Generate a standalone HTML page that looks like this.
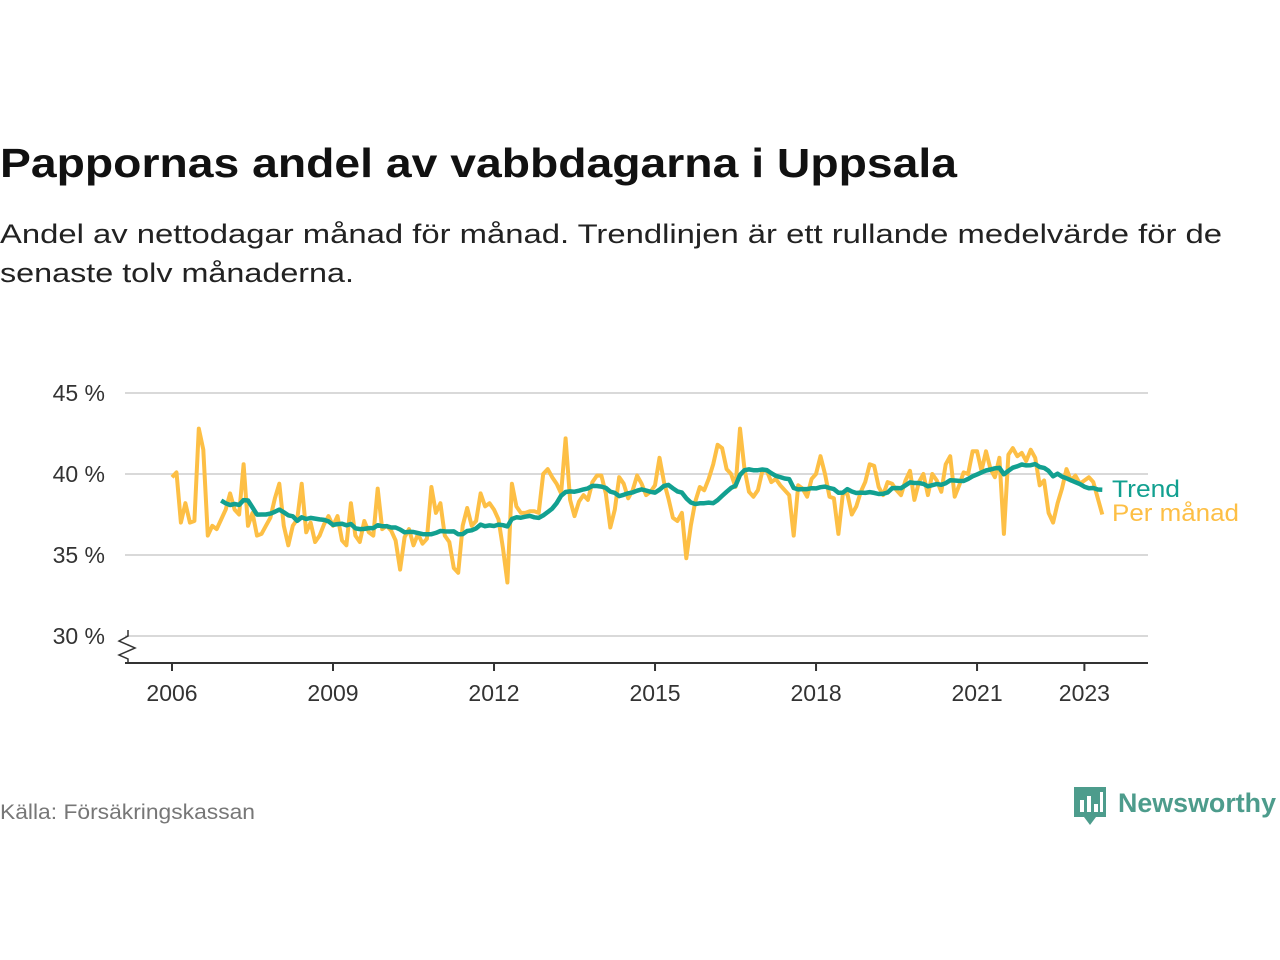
<!DOCTYPE html>
<html><head><meta charset="utf-8">
<style>
html,body{margin:0;padding:0;background:#fff;}
svg{display:block;font-family:"Liberation Sans",sans-serif;}
</style></head>
<body>
<svg width="1280" height="960" viewBox="0 0 1280 960">
<text x="0" y="177" font-size="41" font-weight="bold" fill="#111" textLength="957" lengthAdjust="spacingAndGlyphs">Pappornas andel av vabbdagarna i Uppsala</text>
<text x="0" y="243" font-size="27" fill="#222" textLength="1222" lengthAdjust="spacingAndGlyphs">Andel av nettodagar månad för månad. Trendlinjen är ett rullande medelvärde för de</text>
<text x="0" y="282" font-size="27" fill="#222" textLength="354" lengthAdjust="spacingAndGlyphs">senaste tolv månaderna.</text>
<g id="grid"></g>
<g id="yticks"></g>
<g id="xticks"></g>
<g id="series"></g>
<text x="1112" y="497" font-size="24" fill="#12a090" textLength="68" lengthAdjust="spacingAndGlyphs">Trend</text>
<text x="1112" y="521" font-size="24" fill="#fdbf45" textLength="127" lengthAdjust="spacingAndGlyphs">Per månad</text>
<text x="0" y="819" font-size="21" fill="#777" textLength="255" lengthAdjust="spacingAndGlyphs">Källa: Försäkringskassan</text>
<g>
<path d="M1074 787 h32 v30 h-10 l-6 8 l-6 -8 h-10 z" fill="#4d9c8c"/>
<rect x="1080" y="800" width="4" height="12" fill="#fff"/>
<rect x="1087" y="796" width="4" height="16" fill="#fff"/>
<rect x="1094" y="804" width="4" height="8" fill="#fff"/>
<rect x="1100" y="792" width="3" height="20" fill="#fff"/>
<text x="1118" y="812" font-size="27" font-weight="bold" fill="#4d9c8c" textLength="158" lengthAdjust="spacingAndGlyphs">Newsworthy</text>
</g>
</svg>
<script>
const yTicks=[30,35,40,45];
const yLabels=["30 %","35 %","40 %","45 %"];
const xTicks=[2006,2009,2012,2015,2018,2021,2023];
const startYear=2006;
const monthly=[
39.8,40.1,37.0,38.2,37.0,37.1,42.8,41.5,36.2,36.8,36.6,37.2,
37.8,38.8,37.8,37.5,40.6,36.8,37.6,36.2,36.3,36.8,37.3,38.5,
39.4,36.8,35.6,36.8,37.2,39.4,36.4,37.0,35.8,36.2,36.9,37.4,
36.8,37.4,35.9,35.6,38.2,36.2,35.8,37.1,36.4,36.2,39.1,36.6,
36.8,36.5,35.9,34.1,36.1,36.6,35.6,36.3,35.7,36.0,39.2,37.6,
38.2,36.2,35.8,34.2,33.9,36.8,37.9,36.8,37.1,38.8,38.0,38.2,
37.8,37.2,35.4,33.3,39.4,38.0,37.6,37.6,37.7,37.7,37.6,40.0,
40.3,39.8,39.4,38.8,42.2,38.4,37.4,38.3,38.7,38.4,39.5,39.9,
39.9,38.8,36.7,37.8,39.8,39.4,38.5,39.0,39.9,39.4,38.7,38.9,
39.3,41.0,39.5,38.5,37.3,37.1,37.6,34.8,36.8,38.3,39.2,39.0,
39.7,40.6,41.8,41.6,40.3,40.0,39.2,42.8,40.3,38.9,38.6,39.0,
40.2,40.2,39.5,39.7,39.3,39.0,38.7,36.2,39.3,39.1,38.6,39.7,
40.0,41.1,40.0,38.6,38.5,36.3,38.8,38.8,37.5,38.0,38.9,39.5,
40.6,40.5,39.2,38.7,39.5,39.4,39.0,38.7,39.6,40.2,38.4,39.5,
40.0,38.7,40.0,39.6,38.9,40.6,41.1,38.6,39.3,40.1,40.0,41.4,
41.4,40.2,41.4,40.3,39.8,41.0,36.3,41.2,41.6,41.1,41.3,40.8,
41.5,41.0,39.3,39.6,37.6,37.0,38.2,39.1,40.3,39.6,39.9,39.4,
39.6,39.8,39.5,38.5,37.5];
const ns="http://www.w3.org/2000/svg";
function xS(t){return 172+(t-2006)*53.67;}
function yS(v){return 474-(v-40)*16.2;}
function mk(tag,attrs,parent){const e=document.createElementNS(ns,tag);for(const k in attrs)e.setAttribute(k,attrs[k]);parent.appendChild(e);return e;}
const grid=document.getElementById('grid'),yt=document.getElementById('yticks'),xt=document.getElementById('xticks'),ser=document.getElementById('series');
yTicks.forEach((v,i)=>{
 const l=mk('line',{x1:125,x2:1148,y1:yS(v),y2:yS(v),stroke:'#d9d9d9','stroke-width':2},grid);
 
 
 const t=mk('text',{x:105,y:yS(v)+8,'font-size':23,fill:'#333','text-anchor':'end'},yt);
 t.textContent=yLabels[i];
 
 
});
const ax=mk('line',{x1:125,x2:1148,y1:663,y2:663,stroke:'#333','stroke-width':2},xt);


const br=mk('path',{d:'M128 630 L128 636 L119 641 L135 648 L119 655 L128 659 L128 663',fill:'none',stroke:'#333','stroke-width':1.5},xt);


xTicks.forEach(y=>{
 const tk=mk('line',{x1:xS(y),x2:xS(y),y1:663,y2:671,stroke:'#333','stroke-width':2},xt);
 
 
 const t=mk('text',{x:xS(y),y:701,'font-size':23,fill:'#333','text-anchor':'middle'},xt);
 t.textContent=y;
 
 
});
let d='';
monthly.forEach((v,i)=>{d+=(i?'L':'M')+xS(startYear+i/12).toFixed(1)+' '+yS(v).toFixed(1);});
const mp=mk('path',{d:d,fill:'none',stroke:'#fdbf45','stroke-width':4,'stroke-linejoin':'round'},ser);


let td='';
for(let i=11;i<monthly.length;i++){let s=0;for(let j=i-11;j<=i;j++)s+=monthly[j];td+=(i>11?'L':'M')+xS(startYear+i/12).toFixed(1)+' '+yS(s/12).toFixed(1);}
const tp=mk('path',{d:td,fill:'none',stroke:'#12a090','stroke-width':4.5,'stroke-linejoin':'round'},ser);


</script>
</body></html>
